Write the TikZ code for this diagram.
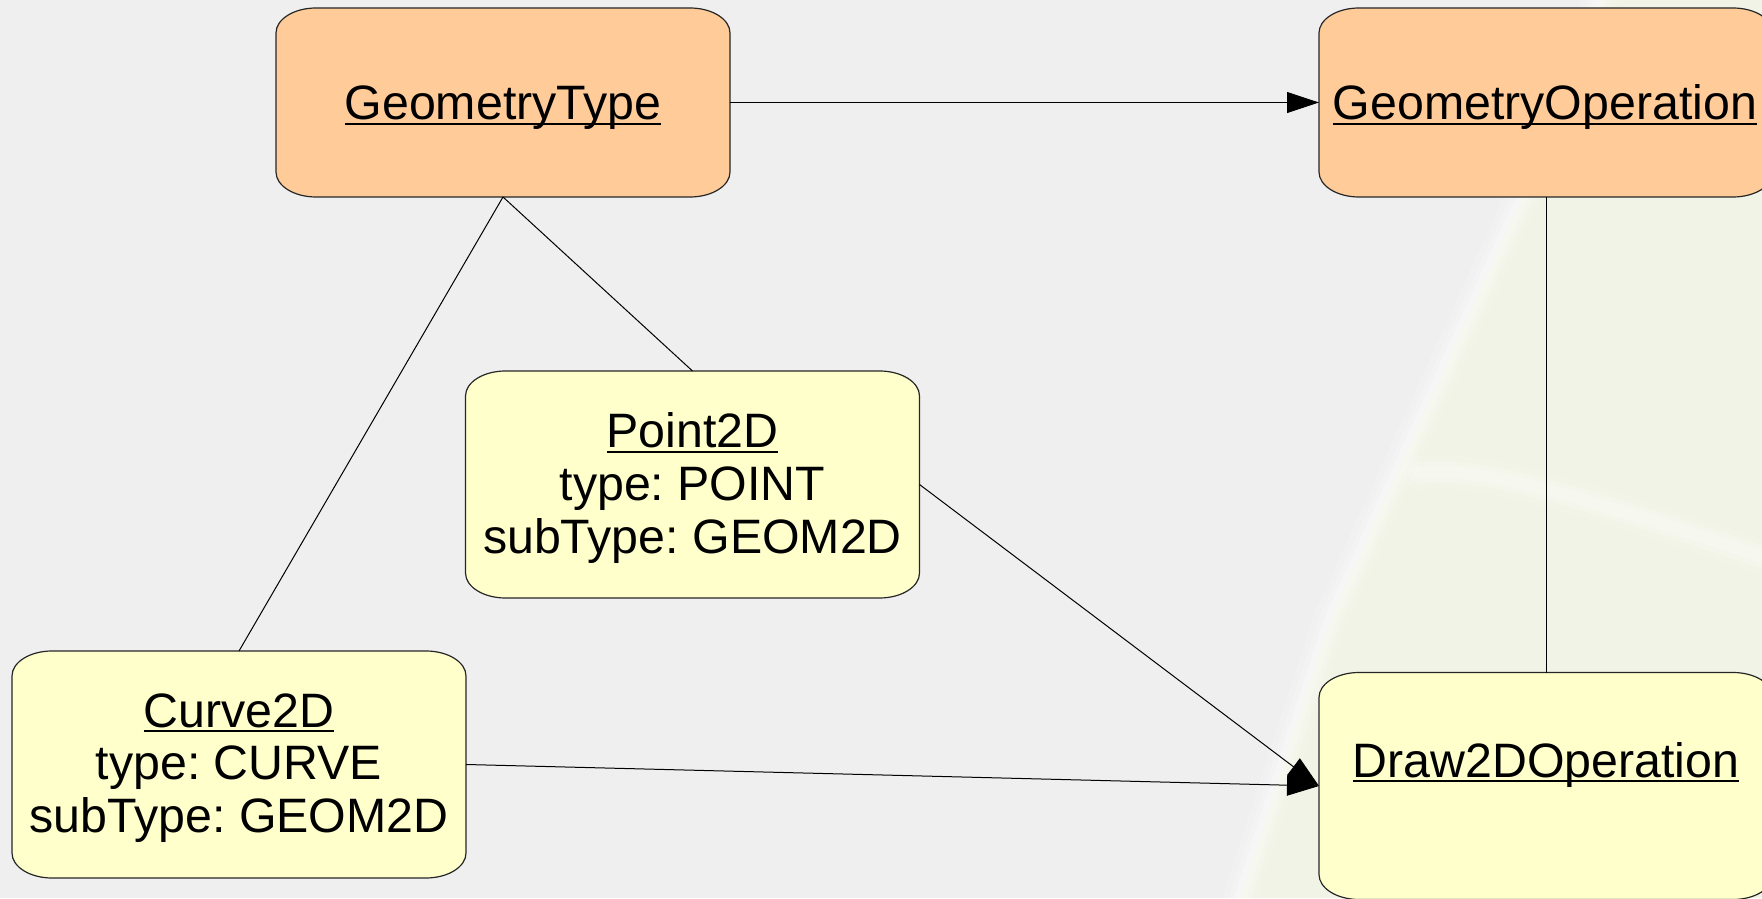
\documentclass[tikz,border=0pt]{standalone}
\usepackage{fontspec}
\setmainfont{Liberation Sans}
\usetikzlibrary{arrows.meta}
\pgfdeclarelayer{background}
\pgfsetlayers{background,main}
\frenchspacing

\definecolor{opfill}{HTML}{FFCC99}
\definecolor{clsfill}{HTML}{FFFFCC}
\definecolor{groundgray}{HTML}{EEEFEE}
\definecolor{groundgreen}{HTML}{F0F3E5}

% rounded box with elliptic corners around a named node
\newcommand\umlbox[2]{%
  \path[#2] ([xshift=40pt]#1.north west) -- ([xshift=-40pt]#1.north east)
    arc[start angle=90,end angle=0,x radius=40pt,y radius=25pt]
    -- ([yshift=25pt]#1.south east)
    arc[start angle=0,end angle=-90,x radius=40pt,y radius=25pt]
    -- ([xshift=40pt]#1.south west)
    arc[start angle=270,end angle=180,x radius=40pt,y radius=25pt]
    -- ([yshift=-25pt]#1.north west)
    arc[start angle=180,end angle=90,x radius=40pt,y radius=25pt] -- cycle;}

\tikzset{
  frame/.style={rectangle, inner sep=0pt, outer sep=0pt},
  opbox/.style={frame, minimum width=454pt, minimum height=189pt},
  clsbox/.style={frame, minimum width=454pt, minimum height=227pt},
  lbl/.style={anchor=base, inner sep=0pt, outer sep=0pt,
    font=\fontsize{48.3}{52.7}\selectfont},
  uline/.style={line width=2.2pt},
  edge/.style={draw=black, line width=1pt},
  assoc/.style={edge, -{Triangle[length=32pt,width=21pt]}},
  opshape/.style={fill=opfill, draw=black!85, line width=1.2pt},
  clsshape/.style={fill=clsfill, draw=black!85, line width=1.2pt},
  road/.style={draw=white, line cap=round, line join=round}
}

\begin{document}
\begin{tikzpicture}[x=1pt,y=1pt]
\useasboundingbox (0,0) rectangle (1762,898);

% faded ground underneath the diagram
\begin{pgfonlayer}{background}
  \fill[groundgray] (0,0) rectangle (1762,898);
  \fill[groundgreen] (1600,898) -- (1762,898) -- (1762,0) -- (1240,0)
    -- (1330,278) -- (1530,718) -- cycle;
  \foreach \w/\o in {34/0.15,22/0.2,12/0.25}{
    \path[road, line width=\w pt, opacity=\o]
      (1600,898) -- (1530,718) -- (1330,278) -- (1240,0);
    \path[road, line width=\w pt, opacity=\o]
      (1420,425) .. controls (1480,434) and (1600,395) .. (1762,341);
  }
\end{pgfonlayer}

% element frames
\node[opbox]  (gt) at (503,795.5) {};
\node[opbox]  (go) at (1546,795.5) {};
\node[clsbox] (pt) at (692.5,413.5) {};
\node[clsbox] (cv) at (239,133.5) {};
\node[clsbox] (dr) at (1546,112) {};

\begin{pgfonlayer}{background}
  \umlbox{gt}{opshape}
  \umlbox{go}{opshape}
  \umlbox{pt}{clsshape}
  \umlbox{cv}{clsshape}
  \umlbox{dr}{clsshape}
\end{pgfonlayer}

% labels
\node[lbl] (gt-t) at (503,778) {GeometryType};
\node[lbl] (go-t) at (1545,778) {GeometryOperation};
\node[lbl] (dr-t) at (1546,121) {Draw2DOperation};

\node[lbl] (pt-1) at (692.5,450) {Point2D};
\node[lbl] (pt-2) at (692.5,397.3) {type: POINT};
\node[lbl] (pt-3) at (692.5,344.6) {subType: GEOM2D};

\node[lbl] (cv-1) at (239,171) {Curve2D};
\node[lbl] (cv-2) at (239,118.3) {type: CURVE};
\node[lbl] (cv-3) at (239,65.6) {subType: GEOM2D};

\foreach \n in {gt-t,go-t,dr-t,pt-1,cv-1}{
  \draw[uline] ([yshift=-4pt]\n.base west) -- ([yshift=-4pt]\n.base east);
}

% connectors
\draw[assoc] (gt.east) -- (go.west);
\draw[edge] (gt.south) -- (pt.north);
\draw[edge] (gt.south) -- (cv.north);
\draw[edge] (go.south) -- (dr.north);
\draw[assoc] (pt.east) -- (dr.west);
\draw[assoc] (cv.east) -- (dr.west);
\end{tikzpicture}
\end{document}
